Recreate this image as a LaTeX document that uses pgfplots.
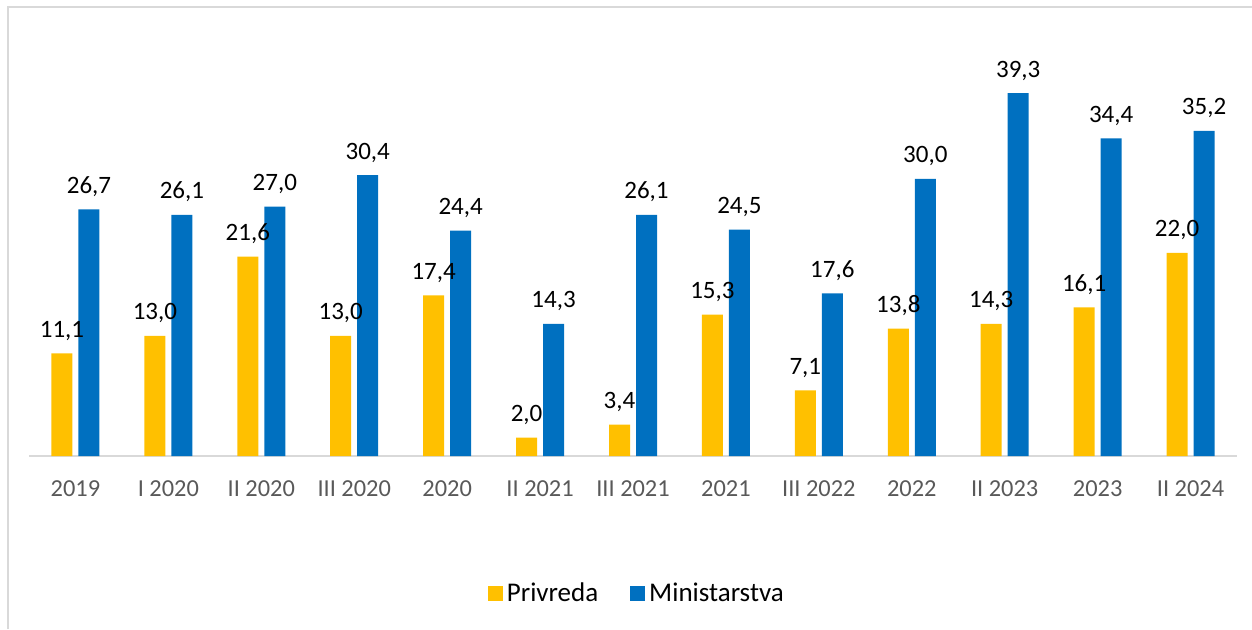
\documentclass[border=0pt]{standalone}
\usepackage{fontspec}
\setmainfont{Carlito}
\usepackage{pgfplots}
\pgfplotsset{compat=1.18}
\definecolor{cyel}{HTML}{FFC000}
\definecolor{cblue}{HTML}{0070C0}
\definecolor{cgrid}{HTML}{D9D9D9}
\definecolor{ctick}{HTML}{595959}
\begin{document}
\begin{tikzpicture}
\useasboundingbox (0pt,0pt) rectangle (626pt,314.5pt);
\draw[cgrid, line width=0.75pt] (4pt,0pt) -- (4pt,311pt) -- (626pt,311pt);
\begin{axis}[
  at={(14.5pt,86.5pt)}, anchor=south west,
  scale only axis, width=604pt, height=207.8pt,
  ybar=3pt, bar width=10.5pt,
  xmin=-0.5, xmax=12.5, ymin=0, ymax=45,
  enlargelimits=false, clip=false,
  hide y axis,
  axis x line*=bottom,
  x axis line style={draw=cgrid, line width=0.75pt, -},
  xtick={0,...,12},
  xticklabels={2019, I 2020, II 2020, III 2020, 2020, II 2021, III 2021, 2021, III 2022, 2022, II 2023, 2023, II 2024},
  major tick length=0pt,
  xticklabel style={font=\fontsize{12.2}{14}\selectfont, text=ctick, inner sep=0pt, anchor=north, yshift=-12pt},
  /pgf/number format/.cd, use comma, fixed, fixed zerofill, precision=1, assume math mode=true, /pgfplots/.cd,
  nodes near coords,
  every node near coord/.append style={font=\fontsize{12.5}{14}\selectfont, text=black, anchor=base, inner sep=0pt, yshift=8pt},
  legend style={at={(0.504,-0.332)}, anchor=center, draw=none, legend columns=2,
    font=\fontsize{13.5}{15}\selectfont,
    /tikz/every even column/.append style={column sep=14pt}},
  legend image code/.code={\fill[#1] (0pt,-3.5pt) rectangle (7.5pt,4pt);},
]
\addplot[fill=cyel, draw=none] coordinates {(0,11.1) (1,13.0) (2,21.6) (3,13.0) (4,17.4) (5,2.0) (6,3.4) (7,15.3) (8,7.1) (9,13.8) (10,14.3) (11,16.1) (12,22.0)};
\addplot[fill=cblue, draw=none] coordinates {(0,26.7) (1,26.1) (2,27.0) (3,30.4) (4,24.4) (5,14.3) (6,26.1) (7,24.5) (8,17.6) (9,30.0) (10,39.3) (11,34.4) (12,35.2)};
\legend{Privreda, Ministarstva}
\end{axis}
\end{tikzpicture}
\end{document}
